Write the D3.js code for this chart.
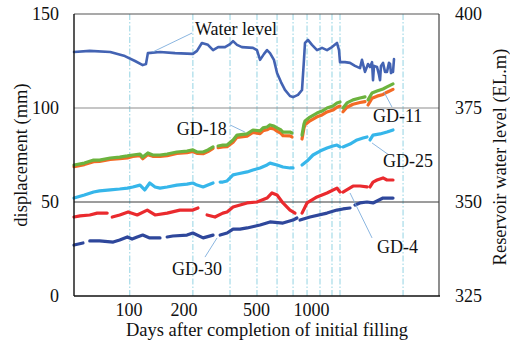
<!DOCTYPE html>
<html>
<head>
<meta charset="utf-8">
<script src="https://cdn.jsdelivr.net/npm/d3@7"></script>
<style>
  body { margin: 0; background: #fff; }
  svg { display: block; }
  text { font-family: "Liberation Serif", "Times New Roman", serif; fill: #111; }
</style>
</head>
<body>
<svg id="chart" width="510" height="342"></svg>
<script>
// Tick values
const xTicks = [100, 200, 500, 1000];
const yLeftTicks = [0, 50, 100, 150];
const yRightTicks = [325, 350, 375, 400];
// Days of the dashed reference lines
const markerDays = [101, 224, 358, 503, 648, 793, 946, 1114, 1296, 1434, 3177];

// Reservoir water level [day, EL.m]
const waterLevel = [[50,389.9],[61,390.2],[79,389.9],[95,388.8],[108,387.5],[119,386.4],[124,386.7],[127,389.6],[148,389.9],[179,389.6],[224,389.4],[236,390.2],[251,392.3],[271,391.8],[289,390.4],[308,391.2],[336,391.2],[358,392.0],[372,392.8],[391,391.8],[416,391.2],[478,391.0],[503,390.4],[523,387.8],[550,389.4],[571,390.4],[593,389.6],[623,387.8],[648,384.3],[681,381.9],[716,379.8],[763,378.2],[793,377.9],[844,378.5],[888,379.8],[910,387.8],[922,392.3],[957,393.1],[1007,391.8],[1073,390.4],[1143,391.0],[1217,390.4],[1296,391.2],[1380,392.3],[1416,390.4],[1434,387.2],[1527,387.2],[1627,387.0],[1732,386.2],[1845,385.6],[1892,387.8],[1966,384.6],[2042,386.7],[2094,385.9],[2148,387.2],[2175,382.4],[2202,386.2],[2288,385.9],[2346,383.8],[2376,382.4],[2405,386.2],[2467,387.0],[2531,384.6],[2594,384.6],[2660,387.0],[2696,386.7],[2729,384.3],[2763,384.6],[2799,384.6],[2834,388.0]];

// Displacement series [day, mm]; null marks a gap in the record
const gd18 = [[50,69.7],[57,70.7],[64,72.3],[69,72.3],[79,73.4],[89,73.9],[98,74.5],[105,75.0],[115,75.5],[119,73.9],[127,76.1],[135,75.0],[148,75.0],[162,75.5],[183,76.6],[208,77.1],[224,77.7],[236,76.6],[255,76.6],[271,77.7],[289,79.3],null,[308,79.8],[327,80.3],[345,80.3],[372,83.0],[391,85.6],[444,86.2],[478,88.3],[523,87.8],[543,89.4],[571,89.9],[593,91.0],[623,90.4],[648,89.4],[681,88.3],[698,87.2],[763,87.2],[782,86.7],null,[888,85.6],[910,91.5],[922,93.1],[982,95.2],[1073,97.3],[1143,98.4],[1217,100.0],[1312,101.1],[1380,102.7],[1434,103.2],null,[1489,100.0],[1566,102.7],[1690,104.3],[1845,105.3],[1966,105.9],null,[2042,104.3],[2148,108.0],[2288,109.0],[2467,110.1],[2594,111.2],[2799,112.8]];

const gd11 = [[50,68.8],[57,69.9],[64,71.4],[69,71.6],[79,72.6],[89,73.0],[98,73.5],[105,74.2],[115,74.6],[119,73.0],[127,75.2],[135,74.3],[148,74.2],[162,74.6],[183,75.8],[208,76.2],[224,76.9],[236,75.9],[255,75.7],[271,76.8],[289,78.5],null,[308,78.9],[327,79.3],[345,79.4],[372,81.8],[391,84.4],[444,85.0],[478,87.0],[523,86.4],[543,87.9],[571,88.4],[593,89.3],[623,88.9],[648,87.7],[681,86.5],[698,85.3],[763,85.2],[782,84.6],null,[888,83.5],[910,89.4],[922,91.1],[982,93.2],[1073,95.3],[1143,96.3],[1217,97.9],[1312,98.9],[1380,100.4],[1434,101.0],null,[1489,98.0],[1566,100.4],[1690,102.0],[1845,102.9],[1966,103.4],null,[2042,101.6],[2148,105.2],[2288,106.3],[2467,107.2],[2594,108.4],[2799,109.9]];

const gd25 = [[50,52.1],[57,53.7],[64,55.3],[69,55.9],[79,56.4],[89,56.9],[98,57.4],[105,58.0],[115,59.0],[122,56.4],[130,60.1],[139,58.0],[148,57.4],[162,58.0],[183,59.0],[208,59.5],[224,60.1],[236,59.0],[255,58.0],[271,59.0],[289,60.1],null,[316,60.6],[327,60.6],[345,61.2],[372,64.4],[391,64.9],[444,66.0],[478,67.0],[523,68.1],[571,69.7],[593,70.7],[648,69.7],[698,68.6],[763,68.1],[793,68.1],null,[888,69.7],[946,71.8],[1020,75.0],[1114,77.1],[1217,78.7],[1312,79.8],[1380,80.3],[1434,79.3],null,[1489,79.3],[1627,80.8],[1777,83.0],[1917,84.0],[2016,84.6],null,[2094,83.0],[2175,85.6],[2376,86.2],[2594,87.2],[2799,88.3]];

const gd4 = [[50,42.0],[54,42.6],[61,43.1],[67,44.1],[76,44.1],null,[81,42.0],[89,43.1],[99,44.7],[111,43.1],[126,45.7],[139,43.1],[162,44.1],[190,45.7],[224,45.7],[239,46.8],null,[268,43.1],[296,42.0],[327,44.1],[345,44.7],[372,47.3],[444,49.5],[503,50.0],[571,52.1],[608,54.8],[648,53.7],[698,49.5],[763,45.7],[813,44.1],null,[888,44.1],[946,49.5],[1073,52.7],[1217,54.8],[1380,57.4],[1434,55.3],null,[1489,55.3],[1690,58.5],[1845,58.5],[2016,58.0],null,[2094,58.0],[2175,60.6],[2288,61.7],[2467,62.8],[2594,61.7],[2799,61.7]];

const gd30 = [[50,27.1],[56,28.2],null,[61,29.3],[69,29.3],[82,28.7],[89,29.8],[98,31.4],[104,30.3],[111,31.4],[119,32.4],[130,30.9],[148,30.9],null,[162,31.4],[174,31.9],[208,32.4],[224,33.5],[255,30.9],[289,32.4],null,[316,32.4],[345,33.5],[372,35.6],[406,35.6],[444,36.2],[523,37.8],[593,39.4],[698,38.8],[793,40.4],[833,41.5],null,[866,40.4],[982,42.0],[1217,44.1],[1380,45.7],[1489,46.3],[1627,46.8],null,[1732,48.4],[1845,49.5],[2016,50.0],[2175,49.5],[2467,52.1],[2799,52.1]];

// Series labels: text anchor and leader line, in [day, mm]
const labels = [
  { text: "Water level", at: [230, 138.8], from: [222, 139.9], to: [135, 129.8] },
  { text: "GD-18", at: [183, 85.6], from: [358, 91.0], to: [432, 87.2] },
  { text: "GD-11", at: [2175, 92.6], from: [2498, 108.5], to: [2763, 100.5] },
  { text: "GD-25", at: [2467, 68.6], from: [2148, 81.4], to: [2660, 75.0] },
  { text: "GD-4", at: [2288, 22.9], from: [1627, 54.8], to: [2148, 30.9] },
  { text: "GD-30", at: [172, 11.2], from: [261, 20.7], to: [304, 30.9] }
];

const margin = { left: 74, right: 439, top: 14, bottom: 296 };
const svg = d3.select("#chart");

const x = d3.scaleLog().domain([50, 5000]).range([margin.left, margin.right]);
const yL = d3.scaleLinear().domain([0, 150]).range([margin.bottom, margin.top]);
const yR = d3.scaleLinear().domain([325, 400]).range([margin.bottom, margin.top]);

// Dashed reference lines
svg.append("g").selectAll("line").data(markerDays).join("line")
  .attr("x1", d => x(d)).attr("x2", d => x(d))
  .attr("y1", margin.top).attr("y2", margin.bottom)
  .attr("stroke", "#a6dbe8").attr("stroke-width", 1.2)
  .attr("stroke-dasharray", "6,2,1.5,2");

// Horizontal grid lines
svg.append("line").attr("x1", margin.left).attr("x2", margin.right)
  .attr("y1", yL(100)).attr("y2", yL(100)).attr("stroke", "#8e8e8e").attr("stroke-width", 1.2);
svg.append("line").attr("x1", margin.left).attr("x2", margin.right)
  .attr("y1", yL(50)).attr("y2", yL(50)).attr("stroke", "#3a3a3a").attr("stroke-width", 1);

// Frame
svg.append("line").attr("x1", margin.left).attr("x2", margin.right)
  .attr("y1", margin.top).attr("y2", margin.top).attr("stroke", "#555").attr("stroke-width", 1.2);
svg.append("line").attr("x1", margin.right).attr("x2", margin.right)
  .attr("y1", margin.top).attr("y2", margin.bottom).attr("stroke", "#444").attr("stroke-width", 1.2);

// Data lines
const lineL = d3.line().defined(d => d !== null).x(d => x(d[0])).y(d => yL(d[1])).curve(d3.curveLinear);
const lineR = d3.line().defined(d => d !== null).x(d => x(d[0])).y(d => yR(d[1]));

const series = [
  { data: gd30, color: "#2e479b" },
  { data: gd4, color: "#ea2a2e" },
  { data: gd25, color: "#36b6ea" },
  { data: gd11, color: "#f36a25" },
  { data: gd18, color: "#6cb33e" }
];
svg.append("g").selectAll("path").data(series).join("path")
  .attr("d", d => lineL(d.data))
  .attr("fill", "none").attr("stroke", d => d.color)
  .attr("stroke-width", 3.2).attr("stroke-linejoin", "round").attr("stroke-linecap", "round");

svg.append("path").attr("d", lineR(waterLevel))
  .attr("fill", "none").attr("stroke", "#4363b3")
  .attr("stroke-width", 2.6).attr("stroke-linejoin", "round").attr("stroke-linecap", "round");

// Axes lines
svg.append("line").attr("x1", margin.left).attr("x2", margin.left)
  .attr("y1", margin.top).attr("y2", margin.bottom).attr("stroke", "#111").attr("stroke-width", 1.4);
svg.append("line").attr("x1", margin.left).attr("x2", margin.right + 1)
  .attr("y1", margin.bottom).attr("y2", margin.bottom).attr("stroke", "#111").attr("stroke-width", 1.6);

// Tick labels
const fs = 18;
svg.append("g").selectAll("text").data(yLeftTicks).join("text")
  .attr("x", 59).attr("y", d => yL(d)).attr("dy", "0.34em")
  .attr("text-anchor", "end").attr("font-size", fs).text(d => d);
svg.append("g").selectAll("text").data(yRightTicks).join("text")
  .attr("x", 455).attr("y", d => yR(d)).attr("dy", "0.34em")
  .attr("text-anchor", "start").attr("font-size", fs).text(d => d);
svg.append("g").selectAll("text").data(xTicks).join("text")
  .attr("x", d => x(d)).attr("y", 316)
  .attr("text-anchor", "middle").attr("font-size", fs).text(d => d);

// Axis titles
svg.append("text").attr("x", 267).attr("y", 336).attr("text-anchor", "middle")
  .attr("font-size", 18.5).text("Days after completion of initial filling");
svg.append("text").attr("transform", "translate(27,155) rotate(-90)")
  .attr("text-anchor", "middle").attr("font-size", 18.5).text("displacement (mm)");
svg.append("text").attr("transform", "translate(506,157) rotate(-90)")
  .attr("text-anchor", "middle").attr("font-size", 18.5).text("Reservoir water level (EL.m)");

// Series labels with leader lines
const lab = svg.append("g");
lab.selectAll("line").data(labels).join("line")
  .attr("x1", d => x(d.from[0])).attr("y1", d => yL(d.from[1]))
  .attr("x2", d => x(d.to[0])).attr("y2", d => yL(d.to[1]))
  .attr("stroke", "#7eaedc").attr("stroke-width", 0.9);
lab.selectAll("text").data(labels).join("text")
  .attr("x", d => x(d.at[0])).attr("y", d => yL(d.at[1]))
  .attr("font-size", fs).text(d => d.text);
</script>
</body>
</html>
